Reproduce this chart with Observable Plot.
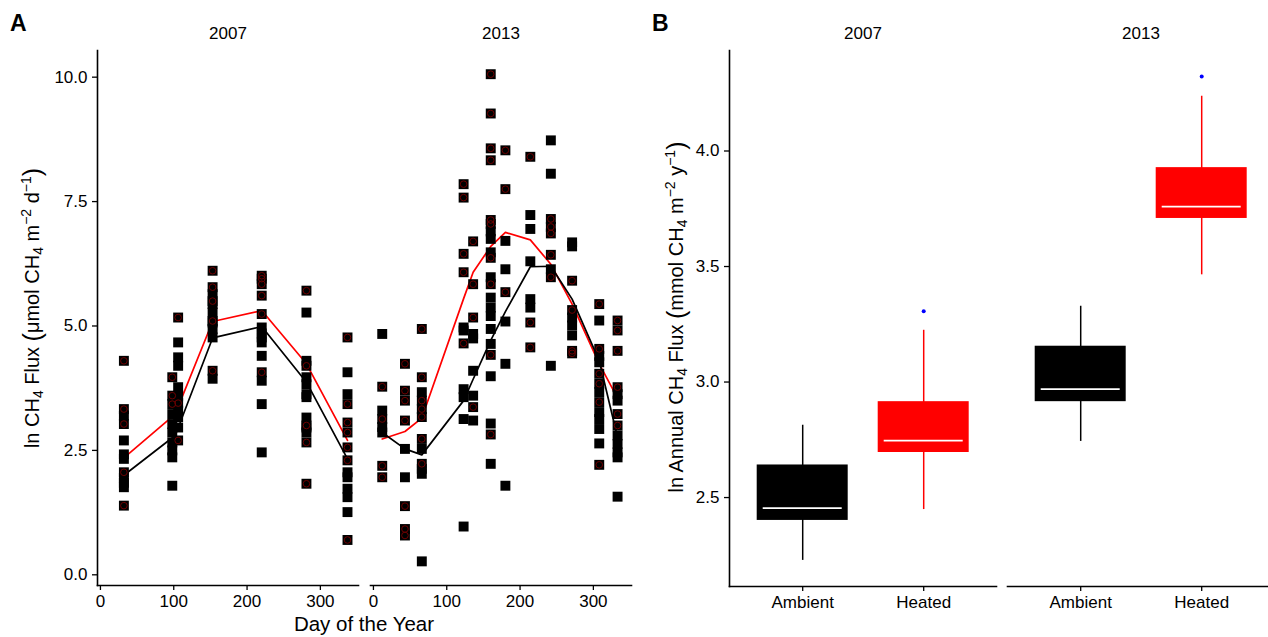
<!DOCTYPE html>
<html><head><meta charset="utf-8">
<script src="https://cdn.jsdelivr.net/npm/d3@7"></script>
<script src="https://cdn.jsdelivr.net/npm/@observablehq/plot@0.6"></script>
<style>
body{margin:0;background:#fff;font-family:"Liberation Sans",Arial,Helvetica,sans-serif;}
#wrap{position:relative;width:1268px;height:637px;overflow:hidden;background:#fff;color:#000}
.panel{position:absolute;top:0;width:640px;height:637px}
.panel svg{max-width:none !important;width:640px;height:637px}
.letter{position:absolute;font-weight:bold;font-size:23px;line-height:1}
.ytitle{position:absolute;white-space:nowrap;font-size:20px;line-height:1;transform:translate(-50%,-50%) rotate(-90deg);}
.xtitle{position:absolute;white-space:nowrap;font-size:20.5px;line-height:1;transform:translate(-50%,-50%);}
sub,sup{font-size:0.7em;line-height:0}
sub{vertical-align:-0.28em}
sup{vertical-align:0.6em}
.paren{font-size:1.25em;vertical-align:-0.06em}
</style>
</head><body>
<div id="wrap"></div>
<script>
// ---------- Panel A data: ln CH4 flux by day of year ----------
const years = ["2007", "2013"];
const treatments = ["Ambient", "Heated"];

const days2007 = [32, 98, 106, 153, 220, 281, 337];
const ambient2007 = [
  [3.20, 2.70, 2.42, 2.33, 1.95, 1.85, 1.76],
  [3.23, 3.03, 2.86, 2.66, 2.50, 2.36, 1.79],
  [4.67, 4.37, 4.20, 3.77, 3.60, 3.30, 3.17, 2.96],
  [5.64, 5.44, 5.27, 5.07, 4.94, 4.77, 3.94],
  [4.97, 4.85, 4.77, 4.67, 4.40, 3.90, 3.43, 2.46],
  [5.27, 4.30, 3.97, 3.83, 3.63, 3.57, 3.16, 2.96, 2.86],
  [4.07, 3.63, 2.06, 1.96, 1.73, 1.56, 1.26]
];
const heated2007 = [
  [4.30, 3.33, 3.03, 2.06, 1.39],
  [3.97, 3.60, 3.43],
  [5.17, 3.45, 2.70],
  [6.11, 5.78, 5.50, 5.10, 4.10],
  [6.01, 5.95, 5.84, 5.61, 5.24, 4.07],
  [5.71, 4.20, 3.00, 2.66, 1.83],
  [4.77, 3.43, 3.06, 2.86, 2.56, 2.30, 0.70]
];

const days2013 = [12, 43, 66, 123, 136, 160, 180, 214, 242, 271, 308, 333];
const ambient2013 = [
  [4.84, 3.30, 2.97, 2.86],
  [2.53, 1.96],
  [3.67, 2.53, 2.13, 2.03, 0.27],
  [4.97, 4.91, 3.73, 3.57, 3.13, 0.97],
  [4.84, 4.75, 4.10, 3.60, 3.10],
  [6.90, 6.75, 6.48, 5.98, 5.57, 5.37, 5.20, 4.94, 4.64, 3.99, 3.04, 2.23],
  [6.71, 6.14, 5.09, 4.24, 1.79],
  [7.23, 6.95, 6.30, 5.54, 5.37],
  [8.73, 8.06, 6.14, 4.20],
  [6.68, 6.60, 5.17, 5.01, 4.81],
  [5.11, 4.40, 4.27, 3.67, 3.27, 3.13, 2.93, 2.64],
  [3.63, 3.50, 2.80, 2.63, 2.46, 2.36, 1.57]
];
const heated2013 = [
  [3.78, 3.13, 2.19, 1.96],
  [4.24, 3.70, 3.50, 3.10, 1.38, 0.92, 0.79],
  [4.94, 3.97, 3.50, 3.33, 3.17, 2.73, 2.23],
  [7.85, 7.58, 6.45, 6.08, 4.65],
  [6.70, 5.84, 5.17, 3.37],
  [10.06, 9.27, 8.57, 8.33, 7.13, 7.05, 6.37, 5.84, 4.42, 2.82],
  [8.53, 7.75, 5.68],
  [8.40, 5.07, 4.57],
  [7.15, 6.99, 6.86, 6.43, 5.98],
  [5.91, 5.32, 4.50, 4.45],
  [5.44, 4.54, 4.04, 3.84, 3.47, 2.21],
  [5.11, 4.91, 4.50, 3.77, 3.23, 3.00]
];

// mean lines
const lineDays2007 = [32, 102, 153, 220, 281, 337];
const lineAmbient2007 = [2.00, 2.80, 4.76, 4.99, 3.87, 2.33];
const lineHeated2007 = [2.35, 3.23, 5.09, 5.31, 4.24, 2.70];
const lineDays2013 = [12, 43, 66, 123, 136, 160, 180, 214, 242, 271, 308, 333];
const lineAmbient2013 = [2.86, 2.53, 2.41, 3.50, 3.93, 4.71, 5.29, 6.19, 6.20, 5.54, 4.30, 2.76];
const lineHeated2013 = [2.73, 2.88, 3.15, 5.55, 6.08, 6.60, 6.88, 6.73, 6.24, 5.44, 4.24, 3.55];

// ---------- Panel B data: annual flux boxplots ----------
const boxYears = ["2007", "2007", "2013", "2013"];
const boxTreatments = ["Ambient", "Heated", "Ambient", "Heated"];
const boxLow = [2.228, 2.448, 2.743, 3.464];
const boxQ1 = [2.401, 2.695, 2.915, 3.708];
const boxMedian = [2.454, 2.746, 2.969, 3.759];
const boxQ3 = [2.641, 2.915, 3.155, 3.928];
const boxHigh = [2.813, 3.224, 3.328, 4.237];
const outlierYears = ["2007", "2013"];
const outlierTreatments = ["Heated", "Heated"];
const outlierValues = [3.306, 4.323];

const xTicksA = [0, 100, 200, 300];
const yTicksA = [0, 2.5, 5, 7.5, 10];
const yTicksB = [2.5, 3.0, 3.5, 4.0];

// ---------- build tables ----------
function buildPoints(year, days, amb, hea) {
  const out = [];
  days.forEach((d, i) => {
    amb[i].forEach(v => out.push({year, day: d, flux: v, treatment: "Ambient"}));
    hea[i].forEach(v => out.push({year, day: d, flux: v, treatment: "Heated"}));
  });
  return out;
}
function buildLine(year, days, vals, treatment) {
  return days.map((d, i) => ({year, day: d, value: vals[i], treatment}));
}
const points = [
  ...buildPoints("2007", days2007, ambient2007, heated2007),
  ...buildPoints("2013", days2013, ambient2013, heated2013)
];
const lines = [
  ...buildLine("2007", lineDays2007, lineHeated2007, "Heated"),
  ...buildLine("2007", lineDays2007, lineAmbient2007, "Ambient"),
  ...buildLine("2013", lineDays2013, lineHeated2013, "Heated"),
  ...buildLine("2013", lineDays2013, lineAmbient2013, "Ambient")
];
const boxes = boxYears.map((y, i) => ({year: y, treatment: boxTreatments[i], low: boxLow[i], q1: boxQ1[i], median: boxMedian[i], q3: boxQ3[i], high: boxHigh[i]}));
const outliers = outlierYears.map((y, i) => ({year: y, treatment: outlierTreatments[i], value: outlierValues[i]}));

const font = '"Liberation Sans", Arial, Helvetica, sans-serif';
const colorScale = {domain: treatments, range: ["black", "#ff0000"]};
const axisStroke = 1.6;

const plotA = Plot.plot({
  width: 640, height: 637,
  marginLeft: 96.7, marginRight: 9, marginTop: 50, marginBottom: 52,
  style: {fontFamily: font, fontSize: "17px", color: "black", background: "transparent", overflow: "visible"},
  fx: {domain: years, paddingInner: 0.045, paddingOuter: 0, label: null},
  x: {domain: [-4, 352], label: null},
  y: {domain: [-0.215, 10.536], label: null},
  color: colorScale,
  marks: [
    Plot.axisFx({anchor: "top", tickSize: 0, tickPadding: 12, label: null, fontSize: 17}),
    Plot.axisX({ticks: xTicksA, tickFormat: d3.format("d"), tickSize: 5, tickPadding: 4, label: null, fontSize: 17, strokeWidth: 1.3}),
    Plot.axisY({ticks: yTicksA, tickFormat: d3.format(".1f"), tickSize: 5, tickPadding: 5, label: null, fontSize: 17, strokeWidth: 1.3}),
    Plot.frame({anchor: "bottom", strokeWidth: axisStroke}),
    Plot.frame({anchor: "left", facetAnchor: "left", strokeWidth: axisStroke}),
    Plot.line(lines, {fx: "year", x: "day", y: "value", z: "treatment", stroke: "treatment", strokeWidth: 1.7}),
    Plot.dot(points, {fx: "year", x: "day", y: "flux", symbol: "square", r: 5.6, fill: "black"}),
    Plot.dot(points.filter(d => d.treatment === "Heated"), {fx: "year", x: "day", y: "flux", r: 3.3, stroke: "#6e0000", strokeWidth: 1, fill: "none"})
  ]
});

const plotB = Plot.plot({
  width: 640, height: 637,
  marginLeft: 88.3, marginRight: 5, marginTop: 50, marginBottom: 51,
  style: {fontFamily: font, fontSize: "17px", color: "black", background: "transparent", overflow: "visible"},
  fx: {domain: years, paddingInner: 0.038, paddingOuter: 0, label: null},
  x: {domain: treatments, paddingInner: 0.25, paddingOuter: 0.225, label: null},
  y: {domain: [2.115, 4.435], label: null},
  color: colorScale,
  marks: [
    Plot.axisFx({anchor: "top", tickSize: 0, tickPadding: 12, label: null, fontSize: 17}),
    Plot.axisX({tickSize: 5, tickPadding: 4, label: null, fontSize: 17, strokeWidth: 1.3}),
    Plot.axisY({ticks: yTicksB, tickFormat: d3.format(".1f"), tickSize: 5, tickPadding: 5, label: null, fontSize: 17, strokeWidth: 1.3}),
    Plot.frame({anchor: "bottom", strokeWidth: axisStroke}),
    Plot.frame({anchor: "left", facetAnchor: "left", strokeWidth: axisStroke}),
    Plot.ruleX(boxes, {fx: "year", x: "treatment", y1: "low", y2: "high", stroke: "treatment", strokeWidth: 1.5}),
    Plot.barY(boxes, {fx: "year", x: "treatment", y1: "q1", y2: "q3", fill: "treatment"}),
    Plot.tickY(boxes, {fx: "year", x: "treatment", y: "median", stroke: "white", strokeWidth: 1.8, inset: 6}),
    Plot.dot(outliers, {fx: "year", x: "treatment", y: "value", r: 2, fill: "#0000ff"})
  ]
});

const wrap = document.getElementById("wrap");
const pa = document.createElement("div"); pa.className = "panel"; pa.style.left = "0px"; pa.appendChild(plotA); wrap.appendChild(pa);
const pb = document.createElement("div"); pb.className = "panel"; pb.style.left = "640px"; pb.appendChild(plotB); wrap.appendChild(pb);

function addHTML(cls, html, left, top) {
  const el = document.createElement("div");
  el.className = cls; el.innerHTML = html;
  el.style.left = left + "px"; el.style.top = top + "px";
  wrap.appendChild(el);
}
addHTML("letter", "A", 10, 12);
addHTML("letter", "B", 652, 12);
addHTML("ytitle", 'ln CH<sub>4</sub> Flux <span class="paren">(</span>μmol CH<sub>4</sub> m<sup>−2</sup> d<sup>−1</sup><span class="paren">)</span>', 32, 308);
addHTML("ytitle", 'ln Annual CH<sub>4</sub> Flux <span class="paren">(</span>mmol CH<sub>4</sub> m<sup>−2</sup> y<sup>−1</sup><span class="paren">)</span>', 676, 317);
addHTML("xtitle", "Day of the Year", 364, 624);
</script>
</body></html>
